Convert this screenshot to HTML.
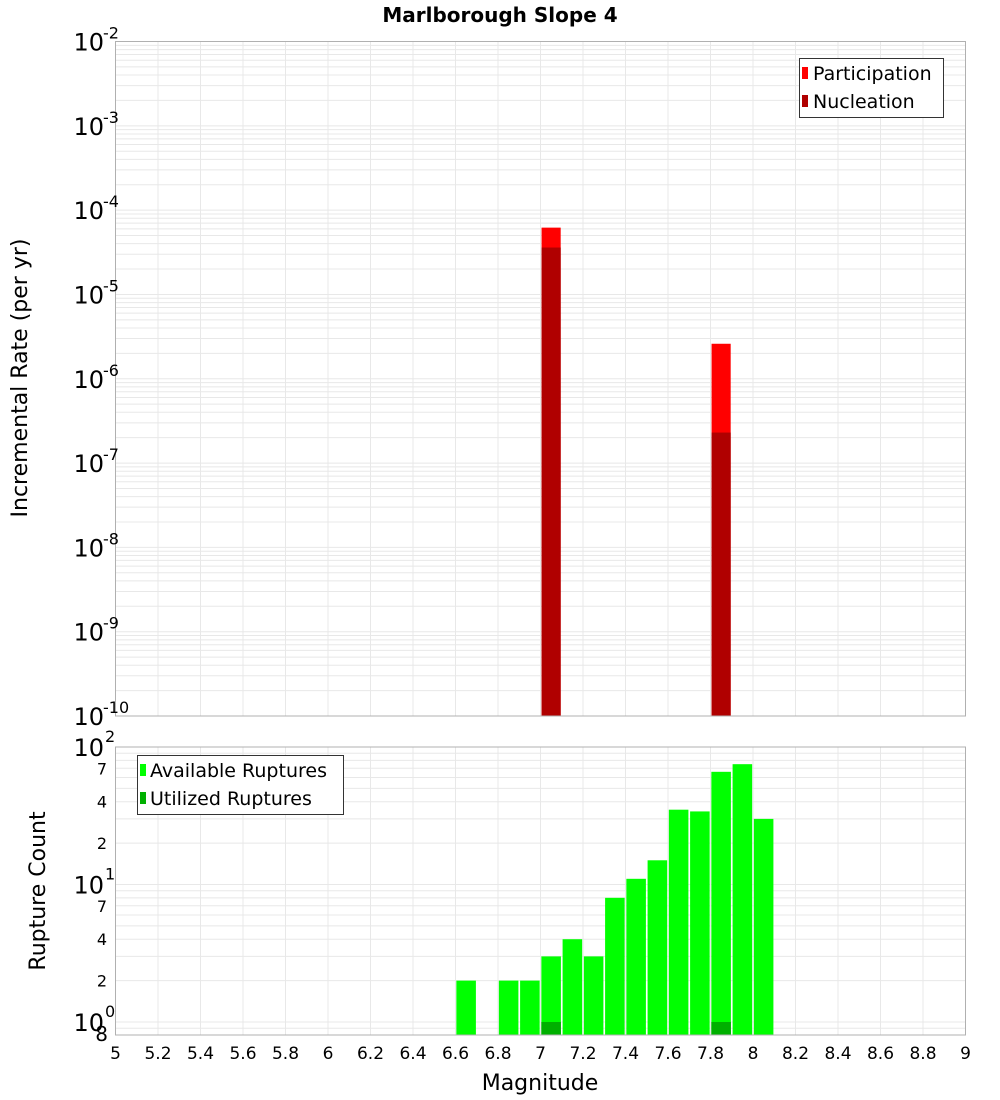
<!DOCTYPE html>
<html><head><meta charset="utf-8"><style>
body{margin:0;background:#fff;}
svg{display:block;font-family:"DejaVu Sans","Liberation Sans",sans-serif;}
</style></head><body>
<svg id="chart" width="1000" height="1100" xmlns="http://www.w3.org/2000/svg">
<text x="500" y="22" text-anchor="middle" font-size="20" font-weight="bold">Marlborough Slope 4</text>
<g id="gtop"></g>
<g id="gbot"></g>
<text transform="translate(27,378) rotate(-90)" text-anchor="middle" font-size="22">Incremental Rate (per yr)</text>
<text transform="translate(45,891) rotate(-90)" text-anchor="middle" font-size="22">Rupture Count</text>
<text x="540" y="1090" text-anchor="middle" font-size="22">Magnitude</text>
<g>
<rect x="799.5" y="58.5" width="144" height="59" fill="#fff" stroke="#333"/>
<rect x="802" y="67" width="6" height="12" fill="#ff0000"/>
<text x="813" y="80" font-size="19">Participation</text>
<rect x="802" y="95" width="6" height="12" fill="#b00000"/>
<text x="813" y="108" font-size="19">Nucleation</text>
</g>
<g>
<rect x="137.5" y="755.5" width="206" height="59" fill="#fff" stroke="#333"/>
<rect x="140" y="764" width="6" height="12" fill="#00ff00"/>
<text x="150" y="777" font-size="19">Available Ruptures</text>
<rect x="140" y="792" width="6" height="12" fill="#00b000"/>
<text x="150" y="805" font-size="19">Utilized Ruptures</text>
</g>
</svg>
<script>
const rateMags = [7.05, 7.85];
const participation = [6.2e-5, 2.6e-6];
const nucleation = [3.6e-5, 2.3e-7];
const countMags = [6.65, 6.85, 6.95, 7.05, 7.15, 7.25, 7.35, 7.45, 7.55, 7.65, 7.75, 7.85, 7.95, 8.05];
const available = [2, 2, 2, 3, 4, 3, 8, 11, 15, 35, 34, 66, 75, 30];
const utilizedMags = [7.05, 7.85];
const utilized = [1, 1];
const xTicks = [5,5.2,5.4,5.6,5.8,6,6.2,6.4,6.6,6.8,7,7.2,7.4,7.6,7.8,8,8.2,8.4,8.6,8.8,9];
const topDecades = [-2,-3,-4,-5,-6,-7,-8,-9,-10];
const botMinorLabels = [2,4,7,20,40,70];

const NS='http://www.w3.org/2000/svg';
const L=115.5,R=965.5;
const xs=m=>L+(m-5)/4*(R-L);
const T0=41.5,T1=716;
const yT=v=>T0+(-2-Math.log10(v))/8*(T1-T0);
const B0=747,B1=1035;
const yB=v=>B0+(2-Math.log10(v))*137.5;
function mk(p,tag,at){const e=document.createElementNS(NS,tag);for(const k in at)e.setAttribute(k,at[k]);p.appendChild(e);return e;}
const gTop=document.getElementById('gtop'),gBot=document.getElementById('gbot');
for(const t of xTicks){
 for(const [g,a,b] of [[gTop,T0,T1],[gBot,B0,B1]]){
  const ln=mk(g,'line',{x1:xs(t),x2:xs(t),y1:a,y2:b,stroke:'#e8e8e8'});
  
  
 }
}
for(let d=-10;d<-2;d++)for(let k=1;k<10;k++){
 const y=yT(k*Math.pow(10,d));
 const ln=mk(gTop,'line',{x1:L,x2:R,y1:y,y2:y,stroke:'#e8e8e8'});
 
 
}
for(let d=-1;d<2;d++)for(let k=1;k<10;k++){
 const v=k*Math.pow(10,d);const y=yB(v);
 if(y>B1||y<B0)continue;
 const ln=mk(gBot,'line',{x1:L,x2:R,y1:y,y2:y,stroke:'#e8e8e8'});
 
 
}
rateMags.forEach((m,i)=>{
 const b1=mk(gTop,'rect',{x:xs(m-0.045),width:xs(m+0.045)-xs(m-0.045),y:yT(participation[i]),height:T1-yT(participation[i]),fill:'#ff0000'});
 
 
 const b2=mk(gTop,'rect',{x:xs(m-0.045),width:xs(m+0.045)-xs(m-0.045),y:yT(nucleation[i]),height:T1-yT(nucleation[i]),fill:'#b00000'});
 
 
});
countMags.forEach((m,i)=>{
 const b=mk(gBot,'rect',{x:xs(m-0.046),width:xs(m+0.046)-xs(m-0.046),y:yB(available[i]),height:B1-yB(available[i]),fill:'#00ff00'});
 
 
});
utilizedMags.forEach((m,i)=>{
 const b=mk(gBot,'rect',{x:xs(m-0.046),width:xs(m+0.046)-xs(m-0.046),y:yB(utilized[i]),height:B1-yB(utilized[i]),fill:'#00b000'});
 
 
});
const f1=mk(gTop,'rect',{x:L,y:T0,width:R-L,height:T1-T0,fill:'none',stroke:'#b0b0b0'});


const f2=mk(gBot,'rect',{x:L,y:B0,width:R-L,height:B1-B0,fill:'none',stroke:'#b0b0b0'});


for(const t of xTicks){
 const tx=mk(gBot,'text',{x:xs(t),y:1059,'text-anchor':'middle','font-size':17});
 tx.textContent=String(t);
 
 
}
for(const d of topDecades){
 const y=yT(Math.pow(10,d));
 const tx=mk(gTop,'text',{x:104,y:y+9,'text-anchor':'end','font-size':24});
 tx.textContent='10';
 
 
 const sp=mk(gTop,'text',{x:103,y:y-3,'font-size':16});
 sp.textContent=String(d);
 
 
}
[[2,'2'],[1,'1'],[0,'0']].forEach(([d,e])=>{
 const y=yB(Math.pow(10,d));
 const tx=mk(gBot,'text',{x:104,y:y+9,'text-anchor':'end','font-size':24});
 tx.textContent='10';
 
 
 const sp=mk(gBot,'text',{x:105,y:y-5,'font-size':16});
 sp.textContent=e;
 
 
});
botMinorLabels.forEach(v=>{
 const tx=mk(gBot,'text',{x:107,y:yB(v)+6,'text-anchor':'end','font-size':16});
 tx.textContent=String(v>=10?v/10:v);
 
 
});
const e8=mk(gBot,'text',{x:108,y:1041,'text-anchor':'end','font-size':20});
e8.textContent='8';


</script>
</body></html>
